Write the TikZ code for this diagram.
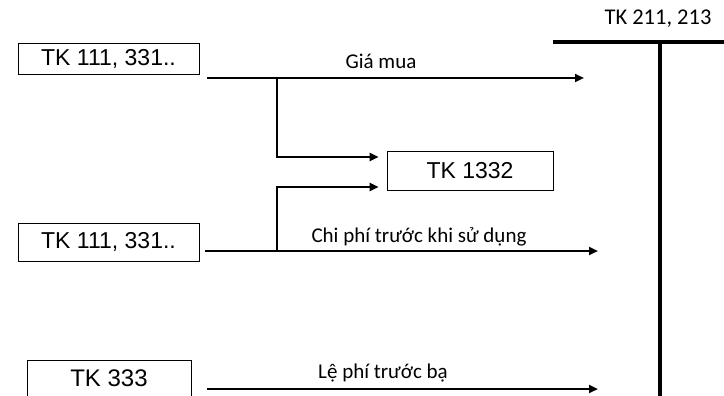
\documentclass[tikz,border=0pt]{standalone}
\usepackage{fontspec}
\setmainfont{Liberation Sans}
\newfontfamily\labelfont{Carlito}
\usetikzlibrary{arrows.meta}
\begin{document}
\begin{tikzpicture}[x=1pt,y=-1pt,
  acct/.style={draw, line width=0.9pt, inner sep=0pt,
    font=\fontsize{23}{26}\selectfont},
  flow/.style={line width=2.6pt, -{Triangle[length=9pt,width=8pt]}},
  tline/.style={line width=3.8pt},
  lbl/.style={font=\labelfont\fontsize{21}{24}\selectfont, anchor=base, inner sep=0pt}]
\clip (0,0) rectangle (724,396);

% source accounts
\node[acct, minimum width=181pt, minimum height=31pt] (src1) at (108.5,58.5) {TK 111, 331..};
\node[acct, minimum width=181pt, minimum height=38pt] (src2) at (108.5,242) {TK 111, 331..};
\node[acct, minimum width=164pt, anchor=base, text height=26pt, text depth=24pt,
  font=\fontsize{24}{26}\selectfont] (src3) at (109,386) {TK 333};

% deductible VAT account
\node[acct, minimum width=166pt, minimum height=39pt] (vat) at (470,170.5) {TK 1332};

% T-account of the fixed asset
\coordinate (tl) at (553,42);
\coordinate (tr) at (724,42);
\coordinate (tb) at (660,400);
\draw[tline] (tl) -- (tr);
\draw[tline] (660,42) -- (tb);
\node[lbl, font=\labelfont\fontsize{22.5}{24}\selectfont] (tname) at (658,25) {TK 211, 213};

% purchase price
\coordinate (s1) at (207,78);
\coordinate (e1) at (584,78);
\coordinate (j1) at (277,78);
\draw[flow] (s1) -- (e1);
\node[lbl] (l1) at (381,69) {Giá mua};
\draw[flow] (j1) |- ([xshift=-8pt]vat.west |- 0,157);

% costs before use
\coordinate (s2) at (205,251);
\coordinate (e2) at (598,251);
\coordinate (j2) at (277,251);
\draw[flow] (s2) -- (e2);
\node[lbl] (l2) at (419,242) {Chi phí trước khi sử dụng};
\draw[flow] (j2) |- ([xshift=-8pt]vat.west |- 0,187);

% registration fee
\coordinate (s3) at (207,389);
\coordinate (e3) at (598,389);
\draw[flow] (s3) -- (e3);
\node[lbl] (l3) at (383,378) {Lệ phí trước bạ};
\end{tikzpicture}
\end{document}
